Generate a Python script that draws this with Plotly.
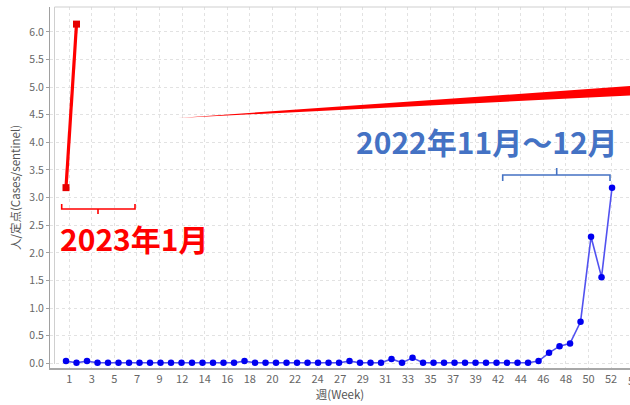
import numpy as np
import plotly.graph_objects as go

# ---- data ----
weeks_2022 = list(range(1, 54))
values_2022 = [0.04, 0.01, 0.04, 0.01, 0.01, 0.01, 0.01, 0.01, 0.01, 0.01,
               0.01, 0.01, 0.01, 0.01, 0.01, 0.01, 0.01, 0.04, 0.01, 0.01,
               0.01, 0.01, 0.01, 0.01, 0.01, 0.01, 0.01, 0.04, 0.01, 0.01,
               0.01, 0.08, 0.01, 0.10, 0.01, 0.01, 0.01, 0.01, 0.01, 0.01,
               0.01, 0.01, 0.01, 0.01, 0.01, 0.04, 0.19, 0.31, 0.36, 0.75,
               2.29, 1.56, 3.18]
weeks_2023 = [1, 2]
values_2023 = [3.18, 6.14]

tick_labels = ["1", "3", "5", "7", "9", "12", "14", "16", "18", "20", "22", "24",
               "27", "29", "31", "33", "35", "37", "39", "42", "44", "46", "48",
               "50", "52"]
cut_label = "55"
label_2023 = "2023年1月"
label_2022 = "2022年11月～12月"
y_title = "人/定点(Cases/sentinel)"
x_title = "週(Week)"

# ---- geometry helpers (pixel -> paper) ----
W, H = 630, 405
L, R, T, B = 50, 0, 7, 37
PW, PH = W - L - R, H - T - B


def px(x):
    return (x - L) / PW


def py(y):
    return (H - B - y) / PH


tick_start, tick_step = 1.31, 2.15
tickvals = [tick_start + tick_step * k for k in range(len(tick_labels))]

fig = go.Figure()
fig.add_trace(go.Scatter(
    x=weeks_2022, y=values_2022, mode="lines+markers",
    line=dict(color="#5252f0", width=1.6),
    marker=dict(color="#0000f0", size=6.5, symbol="circle"),
    showlegend=False, hoverinfo="skip"))
fig.add_trace(go.Scatter(
    x=weeks_2023, y=values_2023, mode="lines+markers",
    line=dict(color="#ff0000", width=3.2),
    marker=dict(color="#e60000", size=7, symbol="square"),
    showlegend=False, hoverinfo="skip"))

font_main = "Noto Sans CJK JP"
shapes = []
# plot border (light)
shapes.append(dict(type="line", xref="paper", yref="paper", x0=px(54.5), x1=1, y0=py(7), y1=py(7),
                   line=dict(color="#cfcfcf", width=1)))
shapes.append(dict(type="line", xref="paper", yref="paper", x0=px(54.5), x1=px(54.5), y0=py(364), y1=py(7),
                   line=dict(color="#cfcfcf", width=1)))
# red wedge
shapes.append(dict(type="path", xref="paper", yref="paper",
                   path=f"M {px(178)},{py(118)} L {px(630)},{py(86)} L {px(630)},{py(95.5)} Z",
                   fillcolor="#ff0000", line=dict(width=0)))
# red bracket
shapes.append(dict(type="path", xref="paper", yref="paper",
                   path=(f"M {px(61.7)},{py(204)} L {px(61.7)},{py(209)} L {px(135)},{py(209)} "
                         f"L {px(135)},{py(204)} M {px(98)},{py(209)} L {px(98)},{py(214)}"),
                   line=dict(color="#ff0000", width=1.6)))
# blue bracket
shapes.append(dict(type="path", xref="paper", yref="paper",
                   path=(f"M {px(502.7)},{py(181)} L {px(502.7)},{py(175)} L {px(610)},{py(175)} "
                         f"L {px(610)},{py(181)} M {px(556.7)},{py(175)} L {px(556.7)},{py(168)}"),
                   line=dict(color="#4472c4", width=1.6)))

annotations = [
    dict(text=label_2023, xref="paper", yref="paper", x=px(58), y=py(238), xanchor="left", yanchor="middle",
         showarrow=False, font=dict(family=font_main, size=30, color="#ff0000", weight=700)),
    dict(text=label_2022, xref="paper", yref="paper", x=px(354), y=py(141), xanchor="left", yanchor="middle",
         showarrow=False, font=dict(family=font_main, size=30, color="#4472c4", weight=700)),
    dict(text=cut_label, xref="paper", yref="paper", x=px(634), y=py(380), xanchor="center", yanchor="middle",
         showarrow=False, font=dict(family=font_main, size=11, color="#666666")),
]

fig.update_layout(
    width=W, height=H,
    margin=dict(l=L, r=R, t=T, b=B, pad=0),
    paper_bgcolor="white", plot_bgcolor="white",
    font=dict(family=font_main, color="#666666"),
    shapes=shapes, annotations=annotations,
    xaxis=dict(range=[-0.524, 54.71], tickmode="array", tickvals=tickvals, ticktext=tick_labels,
               showgrid=True, gridcolor="#e2e2e2", griddash="dot", gridwidth=1,
               showline=True, linecolor="#a8a8a8", linewidth=1.6, ticks="", zeroline=False,
               tickfont=dict(size=11, color="#666666"),
               title=dict(text=x_title, font=dict(size=11.5, color="#555555"), standoff=4)),
    yaxis=dict(range=[-0.085, 6.45], tick0=0, dtick=0.5, tickformat=".1f",
               showgrid=True, gridcolor="#e2e2e2", griddash="dot", gridwidth=1,
               showline=True, linecolor="#a0a0a0", linewidth=1, ticks="outside", ticklen=3,
               tickcolor="#a0a0a0", zeroline=False,
               tickfont=dict(size=10.5, color="#666666"),
               title=dict(text=y_title, font=dict(size=11.5, color="#555555"), standoff=6)),
)

fig.write_html("out.html", config={"displayModeBar": False},
               post_script="document.body.style.margin='0px';document.body.style.overflow='hidden';")
